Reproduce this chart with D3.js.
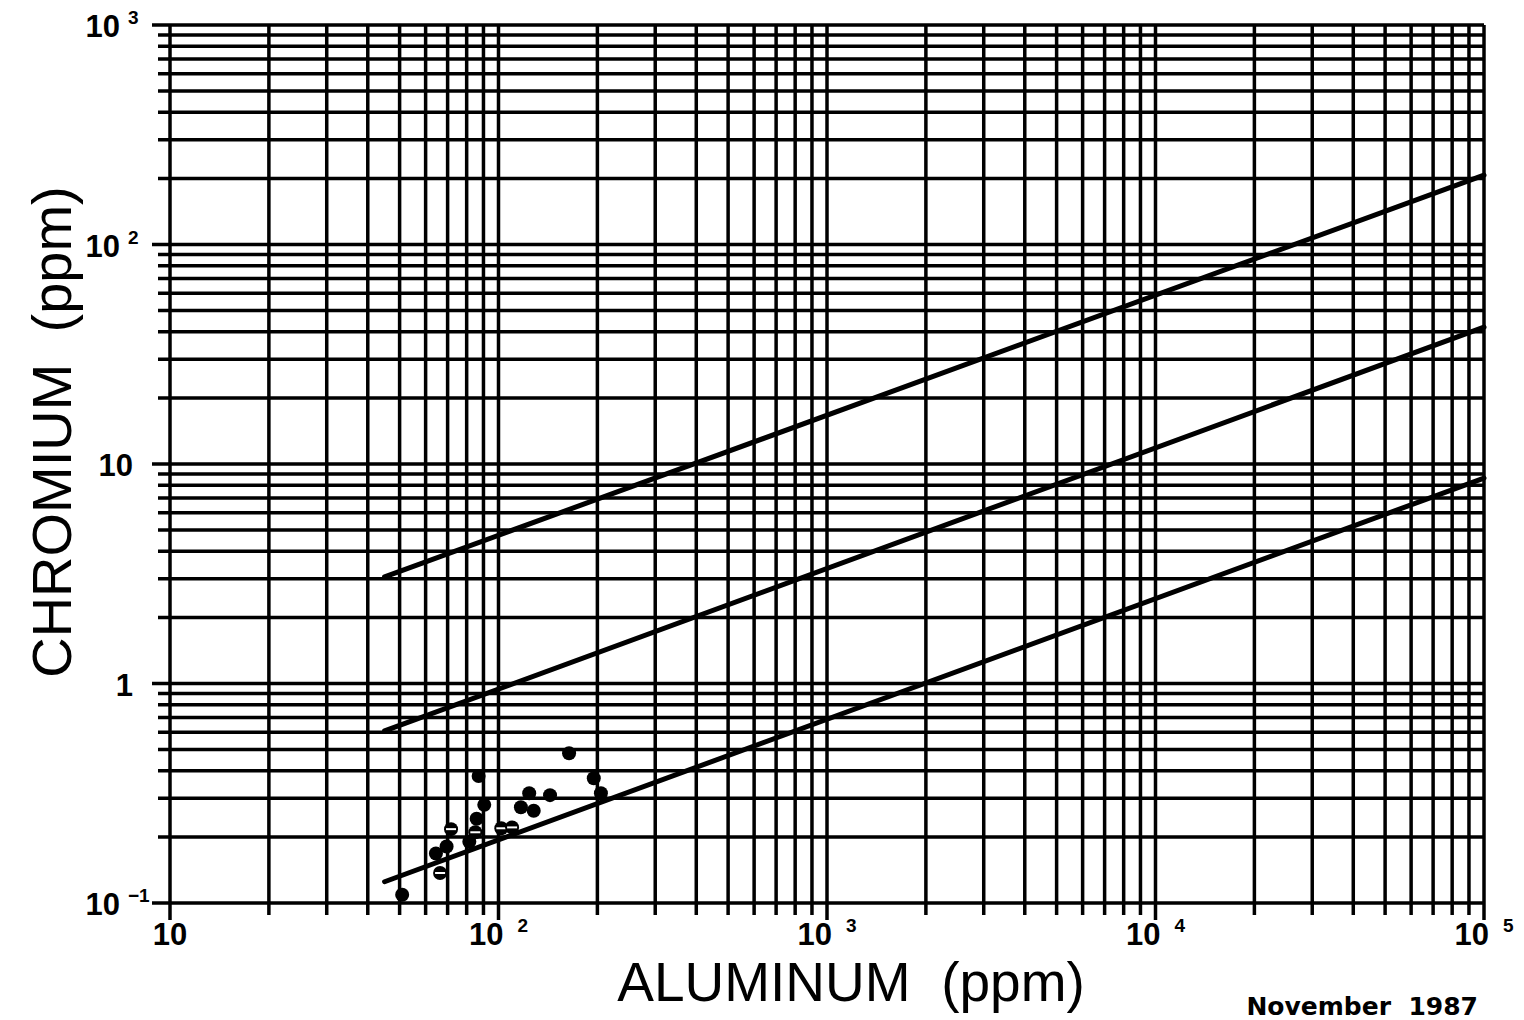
<!DOCTYPE html>
<html>
<head>
<meta charset="utf-8">
<script src="https://cdn.jsdelivr.net/npm/d3@7"></script>
<style>
  html, body { margin: 0; padding: 0; background: #fff; }
  svg { display: block; }
  text { font-family: 'Liberation Sans', Arial, sans-serif; fill: #000; }
</style>
</head>
<body>
<svg id="chart" width="1524" height="1020"></svg>
<script>
// tick labels: [value, base, exponent]
var xTicks = [[10, '10', ''], [1e2, '10', '2'], [1e3, '10', '3'], [1e4, '10', '4'], [1e5, '10', '5']]
var yTicks = [[1e-1, '10', '\u22121'], [1, '1', ''], [10, '10', ''], [1e2, '10', '2'], [1e3, '10', '3']]

// three parallel reference lines: [x0, y0, x1, y1]
var refLines = [
  [45, 3.06, 1e5, 207],
  [45, 0.608, 1e5, 42],
  [45, 0.125, 1e5, 8.63]
]

// samples: aluminum, chromium, flag (1 = circle with bar)
var alum = [164, 87, 195, 124, 143.5, 205, 90.5, 117, 128, 85.8, 71.7, 85, 102, 110, 81.5, 69.5, 64.5, 66.4, 50.9]
var chrom = [0.481, 0.379, 0.370, 0.316, 0.310, 0.316, 0.280, 0.273, 0.263, 0.242, 0.217, 0.210, 0.219, 0.221, 0.190, 0.181, 0.168, 0.137, 0.109]
var barred = [0, 0, 0, 0, 0, 0, 0, 0, 0, 0, 1, 1, 1, 1, 0, 0, 0, 1, 0]

var settings = {
  left: 170, right: 1484, top: 25, bottom: 903
}

var svg = d3.select('#chart')

var x = d3.scaleLog().domain([10, 1e5]).range([settings.left, settings.right])
var y = d3.scaleLog().domain([1e-1, 1e3]).range([settings.bottom, settings.top])

// grid values 1..9 per decade
function gridValues(lo, hi) {
  var out = []
  for (var e = lo; e < hi; e++) {
    for (var m = 1; m < 10; m++) out.push(m * Math.pow(10, e))
  }
  out.push(Math.pow(10, hi))
  return out
}
function isMajor(v) {
  var l = Math.log10(v)
  return Math.abs(l - Math.round(l)) < 1e-9
}

var grid = svg.append('g').attr('class', 'grid')

grid.selectAll('line.v').data(gridValues(1, 5))
  .enter().append('line')
    .attr('class', 'v')
    .attr('x1', d => x(d))
    .attr('x2', d => x(d))
    .attr('y1', settings.top)
    .attr('y2', d => settings.bottom + (isMajor(d) ? 17 : 12))
    .attr('stroke', '#000')
    .attr('stroke-width', 3.5)

grid.selectAll('line.h').data(gridValues(-1, 3))
  .enter().append('line')
    .attr('class', 'h')
    .attr('x1', d => settings.left - (isMajor(d) ? 18 : 12))
    .attr('x2', settings.right)
    .attr('y1', d => y(d))
    .attr('y2', d => y(d))
    .attr('stroke', '#000')
    .attr('stroke-width', 3.5)

// tick labels
var xl = svg.append('g').attr('class', 'x-labels')
xTicks.forEach(t => {
  xl.append('text')
    .attr('x', t[2] ? x(t[0]) + 5 : x(t[0]))
    .attr('y', 945)
    .attr('text-anchor', t[2] ? 'end' : 'middle')
    .attr('font-size', 31)
    .attr('font-weight', 'bold')
    .text(t[1])
  if (t[2]) {
    xl.append('text')
      .attr('x', x(t[0]) + 19)
      .attr('y', 932)
      .attr('font-size', 19)
      .attr('font-weight', 'bold')
      .text(t[2])
  }
})

var yl = svg.append('g').attr('class', 'y-labels')
yTicks.forEach(t => {
  var right = t[2] ? 120 : 133
  yl.append('text')
    .attr('x', right)
    .attr('y', y(t[0]) + 12)
    .attr('text-anchor', 'end')
    .attr('font-size', 31)
    .attr('font-weight', 'bold')
    .text(t[1])
  if (t[2]) {
    yl.append('text')
      .attr('x', 128)
      .attr('y', y(t[0]) - 1)
      .attr('font-size', 19)
      .attr('font-weight', 'bold')
      .text(t[2])
  }
})

// reference lines
svg.append('g').attr('class', 'ref-lines')
  .selectAll('line').data(refLines)
  .enter().append('line')
    .attr('x1', d => x(d[0]))
    .attr('y1', d => y(d[1]))
    .attr('x2', d => x(d[2]))
    .attr('y2', d => y(d[3]))
    .attr('stroke', '#000')
    .attr('stroke-width', 5)
    .attr('stroke-linecap', 'round')

// samples
var pts = svg.append('g').attr('class', 'points')
  .selectAll('g').data(alum.map((a, i) => ({ al: a, cr: chrom[i], bar: barred[i] })))
  .enter().append('g')
    .attr('transform', d => `translate(${ x(d.al) },${ y(d.cr) })`)

pts.append('circle')
  .attr('r', 7)
  .attr('fill', '#000')

pts.filter(d => d.bar).append('line')
  .attr('x1', -5).attr('x2', 5)
  .attr('y1', 0).attr('y2', 0)
  .attr('stroke', '#fff')
  .attr('stroke-width', 2)

// axis titles
svg.append('text')
  .attr('x', 851)
  .attr('y', 1001)
  .attr('text-anchor', 'middle')
  .attr('font-size', 55)
  .style('white-space', 'pre')
  .text('ALUMINUM  (ppm)')

svg.append('text')
  .attr('transform', 'translate(71,432) rotate(-90)')
  .attr('text-anchor', 'middle')
  .attr('font-size', 56)
  .style('white-space', 'pre')
  .text('CHROMIUM  (ppm)')

svg.append('text')
  .attr('x', 1478)
  .attr('y', 1015)
  .attr('text-anchor', 'end')
  .attr('font-size', 25)
  .attr('font-weight', 'bold')
  .style('font-family', "'DejaVu Sans', sans-serif")
  .style('white-space', 'pre')
  .text('November  1987')
</script>
</body>
</html>
